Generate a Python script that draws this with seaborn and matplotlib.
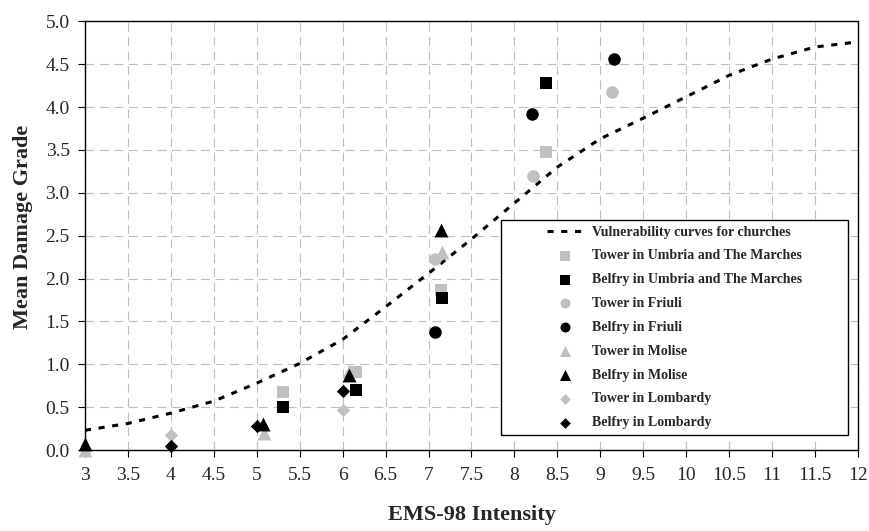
import numpy as np
import pandas as pd
import seaborn as sns
import matplotlib.pyplot as plt
from matplotlib.patches import Rectangle

# Vulnerability curve for churches
curve_x = [3, 3.5, 4, 4.5, 5, 5.5, 6, 6.5, 7, 7.5, 8, 8.5, 9, 9.5, 10, 10.5, 11, 11.5, 12]
curve_y = [0.23, 0.31, 0.43, 0.57, 0.78, 1.01, 1.29, 1.67, 2.06, 2.46, 2.88, 3.30, 3.63, 3.87, 4.12, 4.37, 4.56, 4.70, 4.76]

# Observed mean damage grades
tower_umbria_x = [5.31, 6.16, 7.15, 8.37]
tower_umbria_y = [0.68, 0.91, 1.87, 3.47]
belfry_umbria_x = [5.31, 6.16, 7.16, 8.37]
belfry_umbria_y = [0.50, 0.70, 1.77, 4.28]
tower_friuli_x = [7.08, 8.22, 9.14]
tower_friuli_y = [2.23, 3.19, 4.17]
belfry_friuli_x = [7.08, 8.21, 9.16]
belfry_friuli_y = [1.38, 3.92, 4.56]
tower_molise_x = [3.0, 5.08, 6.07, 7.16]
tower_molise_y = [0.0, 0.20, 0.92, 2.31]
belfry_molise_x = [3.0, 5.07, 6.07, 7.15]
belfry_molise_y = [0.07, 0.30, 0.88, 2.57]
tower_lombardy_x = [4.0, 6.0]
tower_lombardy_y = [0.18, 0.47]
belfry_lombardy_x = [4.0, 5.0, 6.0]
belfry_lombardy_y = [0.05, 0.28, 0.69]

x_ticks = [3, 3.5, 4, 4.5, 5, 5.5, 6, 6.5, 7, 7.5, 8, 8.5, 9, 9.5, 10, 10.5, 11, 11.5, 12]
x_ticklabels = ['3', '3.5', '4', '4.5', '5', '5.5', '6', '6.5', '7', '7.5', '8', '8.5', '9', '9.5', '10', '10.5', '11', '11.5', '12']
y_ticks = [0, 0.5, 1, 1.5, 2, 2.5, 3, 3.5, 4, 4.5, 5]
y_ticklabels = ['0.0', '0.5', '1.0', '1.5', '2.0', '2.5', '3.0', '3.5', '4.0', '4.5', '5.0']

gray = '#C0C0C0'
series = [
    ('Tower in Umbria and The Marches', tower_umbria_x, tower_umbria_y, 's', gray, 72),
    ('Belfry in Umbria and The Marches', belfry_umbria_x, belfry_umbria_y, 's', 'black', 72),
    ('Tower in Friuli', tower_friuli_x, tower_friuli_y, 'o', gray, 81),
    ('Belfry in Friuli', belfry_friuli_x, belfry_friuli_y, 'o', 'black', 81),
    ('Tower in Molise', tower_molise_x, tower_molise_y, '^', gray, 100),
    ('Belfry in Molise', belfry_molise_x, belfry_molise_y, '^', 'black', 100),
    ('Tower in Lombardy', tower_lombardy_x, tower_lombardy_y, 'D', gray, 46),
    ('Belfry in Lombardy', belfry_lombardy_x, belfry_lombardy_y, 'D', 'black', 46),
]

sns.set_style('ticks')
plt.rcParams['font.family'] = ['Liberation Serif', 'DejaVu Serif']

fig = plt.figure(figsize=(8.7, 5.31), dpi=100)
ax = fig.add_axes([0.0977, 0.1525, 0.8885, 0.8074])

curve_df = pd.DataFrame({'EMS-98 Intensity': curve_x, 'Mean Damage Grade': curve_y})
sns.lineplot(data=curve_df, x='EMS-98 Intensity', y='Mean Damage Grade', ax=ax,
             color='black', linewidth=2.2, linestyle=(0, (2, 2.5)),
             label='Vulnerability curves for churches', zorder=2)

for name, xs, ys, mk, col, size in series:
    sns.scatterplot(x=xs, y=ys, ax=ax, marker=mk, color=col, s=size,
                    linewidth=0, label=name, clip_on=False, zorder=3)

ax.set_xlim(3, 12)
ax.set_ylim(0, 5)
ax.set_xticks(x_ticks)
ax.set_xticklabels(x_ticklabels)
ax.set_yticks(y_ticks)
ax.set_yticklabels(y_ticklabels)
ax.tick_params(axis='both', direction='out', length=5, width=0.8, color='black', labelsize=14)
ax.tick_params(axis='x', pad=7)
ax.tick_params(axis='y', pad=6)

ax.grid(True, color='#BEBEBE', linewidth=0.8, linestyle=(0, (8, 5)))
ax.set_axisbelow(True)
for sp in ax.spines.values():
    sp.set_color('black')
    sp.set_linewidth(1.0)

ax.set_xlabel('EMS-98 Intensity', fontsize=16, fontweight='bold')
ax.set_ylabel('Mean Damage Grade', fontsize=16, fontweight='bold')
ax.xaxis.set_label_coords(0.5, -0.128)
ax.yaxis.set_label_coords(-0.067, 0.52)

# legend box
box = Rectangle((0.538, 0.035), 0.449, 0.501, transform=ax.transAxes,
                facecolor='white', edgecolor='black', linewidth=1.0, zorder=4)
ax.add_patch(box)
handles, labels = ax.get_legend_handles_labels()
leg = ax.legend(handles, labels, loc='center', bbox_to_anchor=(0.7626, 0.286),
                frameon=False, prop={'family': 'Liberation Serif', 'weight': 'bold', 'size': 10},
                markerscale=0.8, handlelength=2.6, handletextpad=0.7, labelspacing=0.78)
leg.set_zorder(5)

fig.savefig('out.png', dpi=100)
